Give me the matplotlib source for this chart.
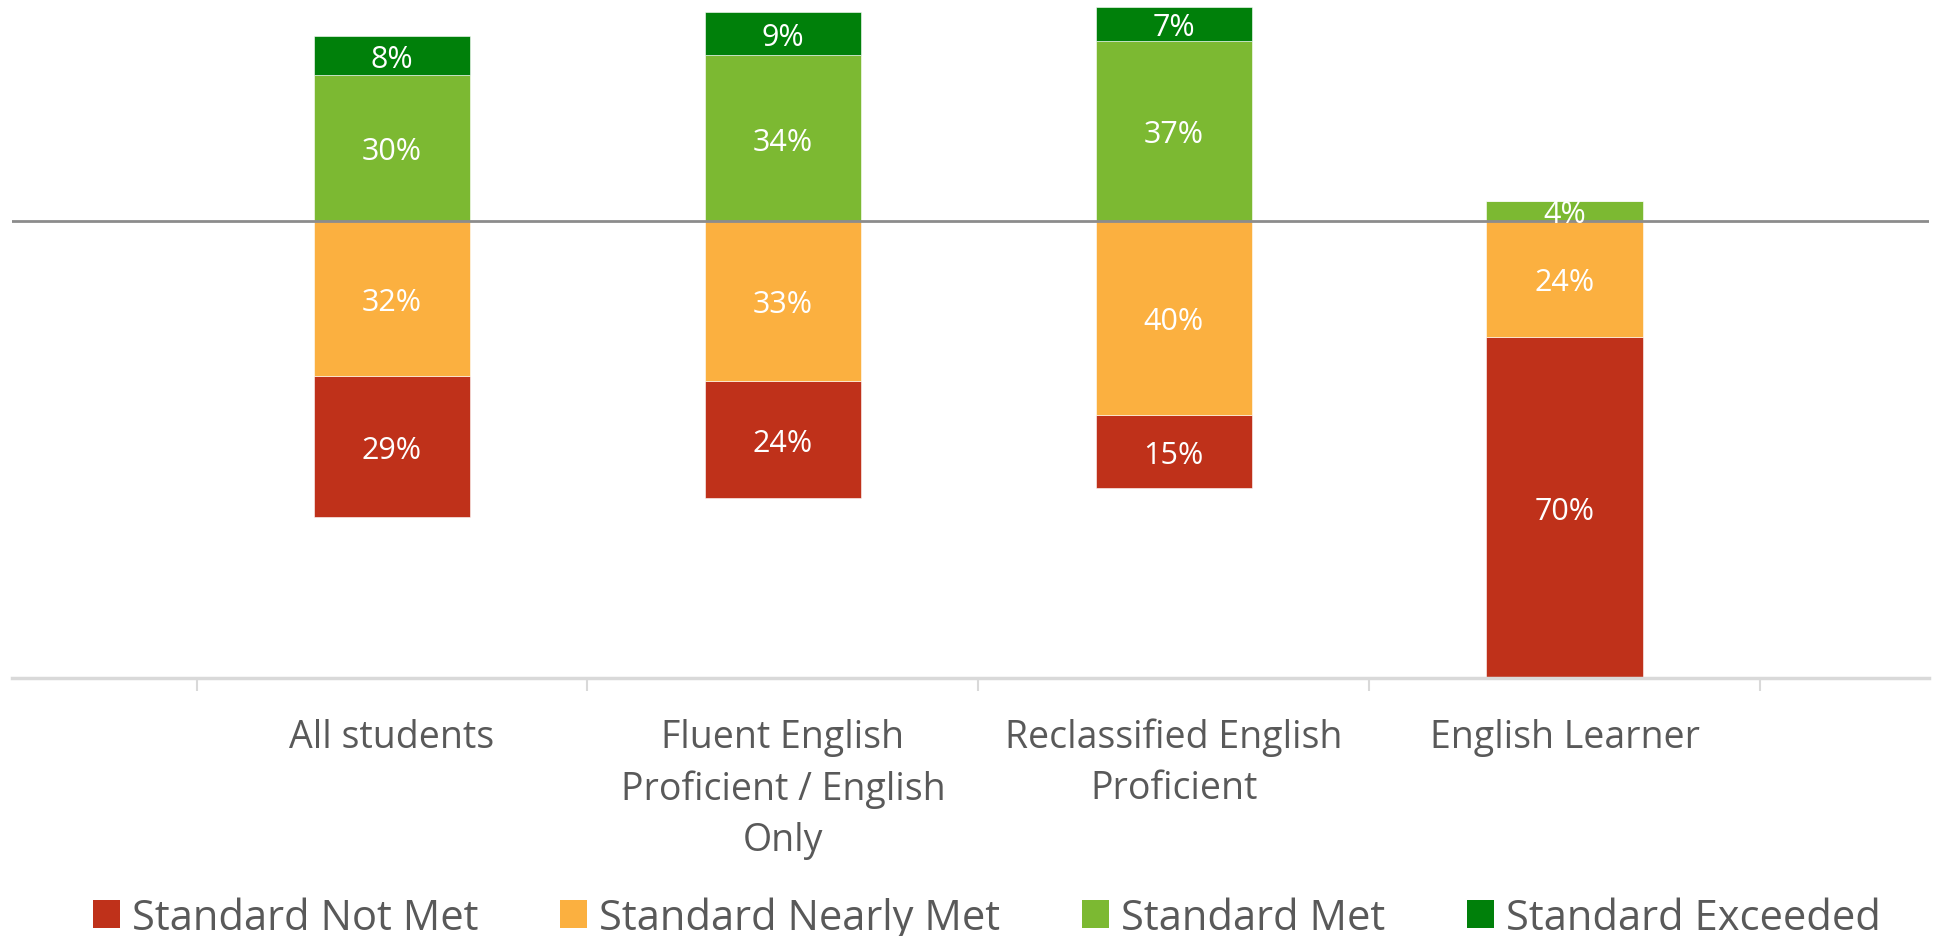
import numpy as np
import matplotlib
matplotlib.use("Agg")
import matplotlib.pyplot as plt
from matplotlib.patches import Patch
from matplotlib.ticker import FixedLocator

plt.rcParams['font.family'] = ['Open Sans', 'DejaVu Sans']

categories = ['All students', 'Fluent English\nProficient / English\nOnly',
              'Reclassified English\nProficient', 'English Learner']
not_met = [29, 24, 15, 70]
nearly_met = [32, 33, 40, 24]
met = [30, 34, 37, 4]
exceeded = [8, 9, 7, 0]

series_names = ['Standard Not Met', 'Standard Nearly Met', 'Standard Met', 'Standard Exceeded']
series_colors = ['#BF311A', '#FBB040', '#7CB932', '#00800A']

fig = plt.figure(figsize=(19.39, 9.37), dpi=100)
ax = fig.add_axes([12 / 1939, 1 - 678.5 / 937, 1917 / 1939, 678.5 / 937])

x = np.arange(len(categories))
width = 0.4
nm = np.array(not_met)
nr = np.array(nearly_met)
mt = np.array(met)
ex = np.array(exceeded)

# below zero: nearly met then not met; above: met then exceeded
segments = [
    (-nm, -nr, series_colors[0], nm),
    (-nr, np.zeros(4), series_colors[1], nr),
    (mt, np.zeros(4), series_colors[2], mt),
    (ex, mt, series_colors[3], ex),
]
for heights, bottoms, color, vals in segments:
    ax.bar(x, heights, width, bottom=bottoms, color=color,
           edgecolor='white', linewidth=0.4, zorder=2)
    for xi, h, b, v in zip(x, heights, bottoms, vals):
        if v > 0:
            ax.text(xi, b + h / 2, f'{v}%', ha='center', va='center_baseline',
                    color='white', fontsize=22, zorder=4)

ax.axhline(0, color='#8C8C8C', lw=2, zorder=3)

ax.set_ylim(-94, 45.6)
ax.set_xlim(-0.972, 3.932)
ax.set_yticks([])

for side in ['top', 'right', 'left']:
    ax.spines[side].set_visible(False)
ax.spines['bottom'].set_color('#D9D9D9')
ax.spines['bottom'].set_linewidth(2.5)

ax.set_xticks(x)
ax.set_xticklabels(categories, fontsize=27, color='#595959', linespacing=1.45)
ax.tick_params(axis='x', which='major', length=0, pad=29)
ax.xaxis.set_minor_locator(FixedLocator(np.arange(-0.5, 4, 1)))
ax.tick_params(axis='x', which='minor', length=9, width=1.5, color='#D9D9D9')

handles = [Patch(facecolor=c, edgecolor='none') for c in series_colors]
fig.legend(handles, series_names, loc='center', bbox_to_anchor=(0.509, 0.020),
           ncol=4, frameon=False, fontsize=30, labelcolor='#595959',
           handlelength=0.65, handleheight=0.65, handletextpad=0.3,
           columnspacing=1.95, borderaxespad=0)

fig.savefig('out.png', dpi=100)
